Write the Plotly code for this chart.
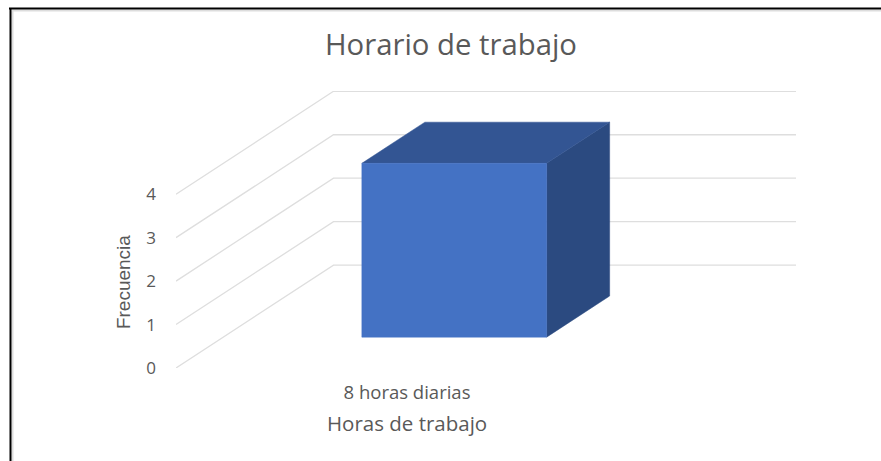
import plotly.graph_objects as go

categories = ["8 horas diarias"]
values = [4]
y_ticks = [0, 1, 2, 3, 4]
title_text = "Horario de trabajo"
x_title = "Horas de trabajo"
y_title = "Frecuencia"

W, H = 881, 461
L, R, T, B = 176, 796, 90.7, 368
UNIT_X = 462.0   # px per category
UNIT_Y = 43.5    # px per value unit
DEPTH_X = 157.5 / UNIT_X
DEPTH_Y = 103.0 / UNIT_Y
BAR_W = 0.40
D0, D1 = 0.30, 0.70
FONT = "Open Sans"
TXT = "#595959"


def proj(x, v, d):
    """Oblique projection: category position, value, depth -> axis coordinates."""
    return x + d * DEPTH_X, v + d * DEPTH_Y


def px(x):
    return (x - L) / (R - L)


def py(y):
    return (B - y) / (B - T)


fig = go.Figure()
x_left = -0.5
x_end = x_left + (R - L) / UNIT_X

# side-wall and back-wall gridlines
for v in y_ticks:
    p0 = proj(x_left, v, 0)
    p1 = proj(x_left, v, 1)
    fig.add_trace(go.Scatter(x=[p0[0], p1[0], x_end], y=[p0[1], p1[1], p1[1]], mode="lines",
                             line=dict(color="#DEDEDE", width=1.3), cliponaxis=False,
                             hoverinfo="skip", showlegend=False))


def face(points, color):
    xs, ys = zip(*points)
    fig.add_trace(go.Scatter(x=list(xs) + [xs[0]], y=list(ys) + [ys[0]], mode="lines", fill="toself",
                             fillcolor=color, line=dict(color=color, width=0.5),
                             hoverinfo="skip", showlegend=False))


for i, val in enumerate(values):
    a, b = i - BAR_W / 2, i + BAR_W / 2
    face([proj(b, 0, D0), proj(b, 0, D1), proj(b, val, D1), proj(b, val, D0)], "#2B4A80")
    face([proj(a, val, D0), proj(b, val, D0), proj(b, val, D1), proj(a, val, D1)], "#335593")
    face([proj(a, 0, D0), proj(b, 0, D0), proj(b, val, D0), proj(a, val, D0)], "#4472C4")


def ln(x0, y0, x1, y1, c, w):
    return dict(type="line", xref="paper", yref="paper", x0=px(x0), y0=py(y0),
                x1=px(x1), y1=py(y1), line=dict(color=c, width=w))


shapes = [
    ln(12, 10, 881, 10, "#DDDDDD", 2),
    ln(12.5, 10, 12.5, 461, "#DDDDDD", 2),
    ln(9, 8, 881, 8, "#000000", 2),
    ln(10.5, 8, 10.5, 461, "#000000", 2),
]

ann = [
    dict(text=x_title, x=px(407), y=py(423.5), xref="paper", yref="paper", showarrow=False,
         xanchor="center", yanchor="middle", font=dict(family=FONT, size=20.5, color=TXT)),
    dict(text=y_title, x=px(123), y=py(282), xref="paper", yref="paper", showarrow=False, textangle=-90,
         xanchor="center", yanchor="middle", font=dict(family="Liberation Sans", size=19, color=TXT)),
]

fig.update_layout(
    width=W, height=H, autosize=False,
    margin=dict(l=L, r=W - R, t=T, b=H - B),
    paper_bgcolor="white", plot_bgcolor="white",
    title=dict(text=title_text, x=451 / W, xanchor="center", y=1 - 45 / H, yanchor="middle",
               font=dict(family=FONT, size=29.3, color=TXT)),
    xaxis=dict(range=[x_left, x_end], tickvals=list(range(len(categories))),
               ticktext=categories, showgrid=False, zeroline=False, showline=False, ticks="",
               tickfont=dict(family=FONT, size=18.5, color=TXT), ticklabelstandoff=11),
    yaxis=dict(range=[0, (B - T) / UNIT_Y], tickvals=y_ticks, showgrid=False, zeroline=False,
               showline=False, ticks="", tickfont=dict(family=FONT, size=17, color=TXT),
               ticklabelstandoff=19),
    shapes=shapes, annotations=ann,
)
fig.write_html("out.html", config={"displayModeBar": False},
               post_script="document.body.style.margin='0';")
